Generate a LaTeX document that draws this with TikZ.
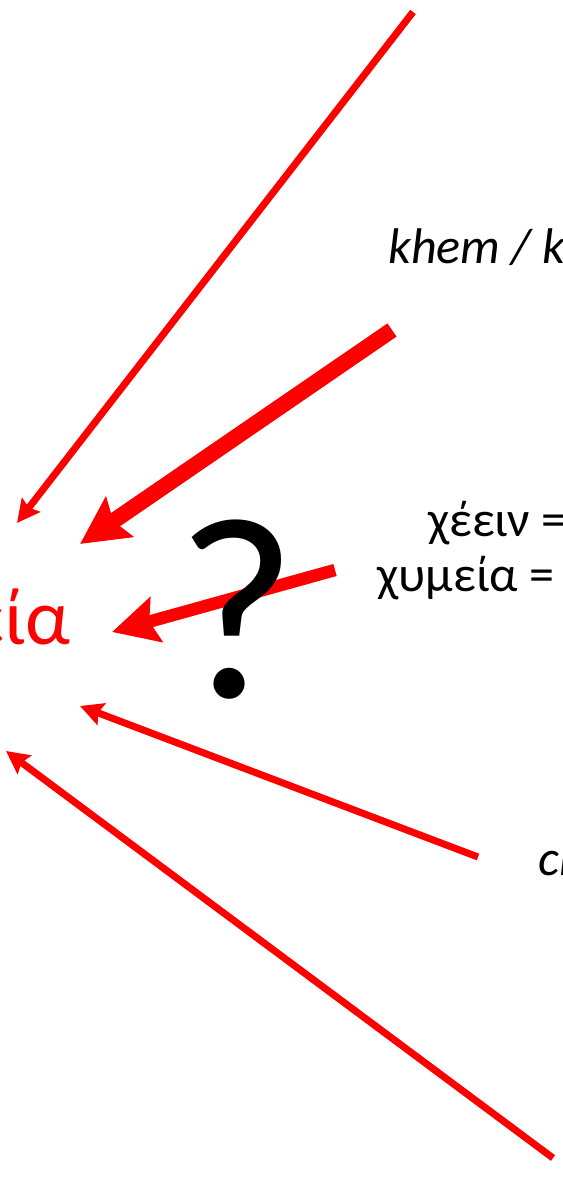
\documentclass[tikz,border=0pt]{standalone}
\usepackage{fontspec}
\setmainfont{Carlito}
\usetikzlibrary{arrows.meta}
\begin{document}
\begin{tikzpicture}[
        x=0.02cm, y=-0.02cm,
        setafina/.style={draw=red, line width=4pt, -{Stealth[length=13pt, width=13pt, inset=2pt]}},
        setamedia/.style={draw=red, line width=7.1pt, -{Stealth[length=26pt, width=26pt, inset=4pt]}},
        setagrossa/.style={draw=red, line width=9.1pt, -{Stealth[length=27pt, width=27pt, inset=4pt]}},
        texto/.style={inner sep=0pt, anchor=base west, font=\fontsize{28.5}{34}\selectfont},
        every node/.style={inner sep=0pt}
    ]

        \useasboundingbox (0,0) rectangle (563,1182);
        \clip (0,0) rectangle (563,1182);

        % ==================================================
        % PALAVRA
        % ==================================================

        \node[anchor=base east, text=red, font=\fontsize{45}{54}\selectfont] (palavra) at (71,644) {χημεία};

        % Pontas e origens das setas
        \coordinate (p1) at (17,523);
        \coordinate (p2) at (80,544);
        \coordinate (p3) at (112,632);
        \coordinate (p4) at (80,706);
        \coordinate (p5) at (6,751);

        \coordinate (o1) at (413,12);
        \coordinate (o2) at (392,330);
        \coordinate (o3) at (335,570);
        \coordinate (o4) at (478,857);
        \coordinate (o5) at (553,1158);

        % ==================================================
        % ORIGENS
        % ==================================================

        \node[texto, font=\fontsize{28.5}{34}\selectfont\itshape] (khem) at (388,264) {khem / k};
        \node[texto] (chein) at (428,536) {χέειν =};
        \node[texto] (chymeia) at (377,591) {χυμεία =};
        \node[texto, font=\fontsize{28.5}{34}\selectfont\itshape] (ch) at (538,875) {ch};

        % Setas
        \draw[setafina] (o1) -- (p1);
        \draw[setagrossa] (o2) -- (p2);
        \draw[setamedia] (o3) -- (p3);
        \draw[setafina] (o4) -- (p4);
        \draw[setafina] (o5) -- (p5);

        % Interrogacao
        \node[anchor=base, font=\fontsize{148}{160}\selectfont] (duvida) at (237,697) {?};

\end{tikzpicture}
\end{document}
